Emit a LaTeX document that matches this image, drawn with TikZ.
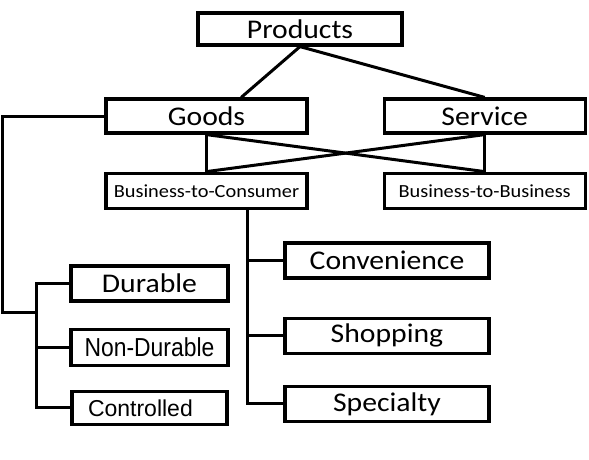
\documentclass[tikz,border=0pt]{standalone}
\usepackage{fontspec}
\setmainfont{Carlito}[FakeStretch=1.1]
\newfontfamily\arialfont{Liberation Sans}
\newfontfamily\arialnarrow{Liberation Sans}[FakeStretch=0.88]
\usepackage{tikz}
\usetikzlibrary{positioning, calc}
\newcommand{\bigtext}{\fontsize{27}{30}\selectfont}
\newcommand{\smalltext}{\fontsize{18.5}{22}\selectfont}

\begin{document}
\begin{tikzpicture}[x=1pt, y=-1pt,
  box/.style={draw, line width=3.2pt, inner sep=0pt, minimum height=35pt, text centered},
  link/.style={line width=3pt}]
\useasboundingbox (0,0) rectangle (589,459);

\node[box, minimum width=204pt, minimum height=32pt, font=\bigtext] (prod) at (300,29) {Products};

\node[box, minimum width=201pt, minimum height=34pt, font=\bigtext] (goods) at (206.5,116) {Goods};

\node[box, minimum width=201pt, minimum height=34pt, font=\bigtext, right=74pt of goods] (serv) {Service};

\node[box, minimum width=201pt, font=\smalltext, below=37pt of goods] (btc) {Business-to-Consumer};

\node[box, minimum width=201pt, font=\smalltext, below=37pt of serv] (btb) {Business-to-Business};

\node[box, minimum width=157pt, font=\bigtext] (dur) at (149.5,283.5) {Durable};

\node[box, minimum width=157pt, minimum height=36pt, font=\arialnarrow\fontsize{26}{28}\selectfont, below=25pt of dur] (nondur) {Non-Durable};

\node[box, minimum width=155pt, minimum height=33pt, inner xsep=16pt, text width=123pt, align=left, font=\arialfont\fontsize{23}{26}\selectfont, below=23pt of nondur] (contr) {Controlled};

\node[box, minimum width=204pt, font=\bigtext] (conv) at (387,260.5) {Convenience};

\node[box, minimum width=204pt, font=\bigtext, below=37pt of conv] (shop) {Shopping};

\node[box, minimum width=204pt, font=\bigtext, below=30pt of shop] (spec) {Specialty};

\coordinate (gtrunk) at (36,312);
\coordinate (ctrunk) at ($(btc.south west)!0.7!(btc.south east)$);

\draw[link] (prod.south) -- ($(goods.north west)!0.67!(goods.north east)$);
\draw[link] (prod.south) -- (serv.north);

\draw[link] (goods.south) -- (btc.north);
\draw[link] (goods.south) -- (btb.north);
\draw[link] (serv.south) -- (btc.north);
\draw[link] (serv.south) -- (btb.north);

% goods branch
\draw[link] (goods.west) -- ++(-101.5,0) |- (gtrunk);
\draw[link] (dur.west) -- (dur.west -| gtrunk) |- (contr.west);
\draw[link] (nondur.west) -- (nondur.west -| gtrunk);

% consumer branch
\draw[link] (ctrunk) |- (spec.west);
\draw[link] (conv.west) -- (conv.west -| ctrunk);
\draw[link] (shop.west) -- (shop.west -| ctrunk);
\end{tikzpicture}
\end{document}
